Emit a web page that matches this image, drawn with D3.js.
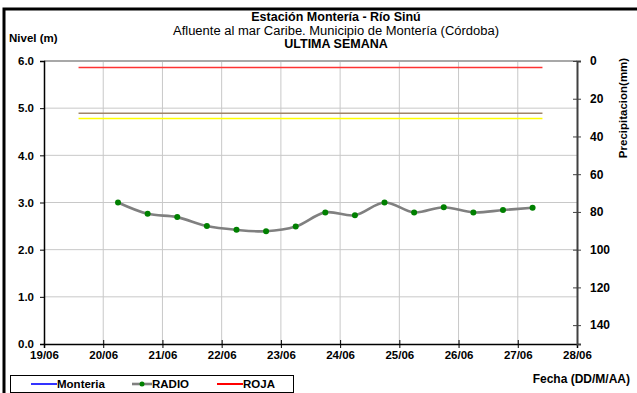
<!DOCTYPE html>
<html><head><meta charset="utf-8">
<script src="https://cdn.jsdelivr.net/npm/d3@7/dist/d3.min.js"></script>
<style>body{margin:0;background:#fff}svg{display:block;font-family:"Liberation Sans",Arial,sans-serif}</style>
</head><body><svg id="c" width="637" height="393"></svg>
<script>
const dayTicks = ["19/06","20/06","21/06","22/06","23/06","24/06","25/06","26/06","27/06","28/06"];
const radioTimes = ["20/06 06:00","20/06 18:00","21/06 06:00","21/06 18:00","22/06 06:00","22/06 18:00","23/06 06:00","23/06 18:00","24/06 06:00","24/06 18:00","25/06 06:00","25/06 18:00","26/06 06:00","26/06 18:00","27/06 06:00"];
const radioValues = [3.00,2.76,2.69,2.50,2.42,2.39,2.49,2.79,2.73,3.00,2.79,2.90,2.79,2.84,2.89];
const thresholdNames = ["ROJA","NARANJA","AMARILLA"];
const thresholdValues = [5.86,4.89,4.78];
const thresholdColors = ["#ff3333","#a08468","#ffff00"];
const thresholdSpan = ["19/06 14:00","27/06 10:00"];
const levelTicks = [0,1,2,3,4,5,6];
const precipTicks = [0,20,40,60,80,100,120,140];

const parse = d3.timeParse("%d/%m/%Y %H:%M");
const pd = s => s.length === 5 ? parse(s + "/2012 00:00") : parse(s.replace(" ", "/2012 "));

const svg = d3.select("#c");
const L = 44, R = 577, T = 61, B = 344;
const x = d3.scaleTime().domain([pd(dayTicks[0]), pd(dayTicks[dayTicks.length-1])]).range([L, R]);
const y = d3.scaleLinear().domain([0, 6]).range([B, T]);
const y2 = d3.scaleLinear().domain([0, 150]).range([T, B]);

// outer frame
svg.append("path").attr("d", `M4,393 V9 H640`).attr("fill","none").attr("stroke","#000").attr("stroke-width",3);

// grid
const g = svg.append("g");
g.selectAll(".hg").data(levelTicks.filter(d => d > 0 && d < 6)).enter().append("line")
  .attr("x1", L).attr("x2", R).attr("y1", d => y(d)).attr("y2", d => y(d))
  .attr("stroke", "#c8c8c8").attr("stroke-width", 1);
g.selectAll(".vg").data(dayTicks.slice(1, -1)).enter().append("line")
  .attr("x1", d => x(pd(d))).attr("x2", d => x(pd(d))).attr("y1", T).attr("y2", B)
  .attr("stroke", "#c8c8c8").attr("stroke-width", 1);
g.append("line").attr("x1", L).attr("x2", R).attr("y1", y(6)).attr("y2", y(6)).attr("stroke", "#a8a8a8").attr("stroke-width", 2);

// thresholds
svg.selectAll(".th").data(thresholdValues).enter().append("line")
  .attr("x1", x(pd(thresholdSpan[0]))).attr("x2", x(pd(thresholdSpan[1])))
  .attr("y1", d => y(d)).attr("y2", d => y(d))
  .attr("stroke", (d,i) => thresholdColors[i]).attr("stroke-width", 1.5);

// radio series
const pts = radioTimes.map((t,i) => [x(pd(t)), y(radioValues[i])]);
svg.append("path").datum(pts).attr("d", d3.line().curve(d3.curveCatmullRom.alpha(0.5)))
  .attr("fill","none").attr("stroke","#808080").attr("stroke-width",2.6);
svg.selectAll(".dot").data(pts).enter().append("circle")
  .attr("cx", d => d[0]).attr("cy", d => d[1]).attr("r", 3).attr("fill", "#008000");

// axes
const fontAxis = sel => sel.attr("font-size", 11.5).attr("font-weight", "bold").attr("fill", "#000");
const ax = svg.append("g").attr("transform", `translate(${L},0)`)
  .call(d3.axisLeft(y).tickValues(levelTicks).tickFormat(d3.format(".1f")).tickSize(4).tickPadding(6));
ax.select(".domain").attr("stroke","#000").attr("stroke-width",1.5);
ax.selectAll("text").call(fontAxis);

const bx = svg.append("g").attr("transform", `translate(0,${B})`)
  .call(d3.axisBottom(x).tickValues(dayTicks.map(pd)).tickFormat(d3.timeFormat("%d/%m")).tickSize(4).tickPadding(3));
bx.select(".domain").attr("stroke","#000").attr("stroke-width",1.5);
bx.selectAll(".tick line").attr("y1", -4);
bx.selectAll("text").call(fontAxis);

const rx = svg.append("g").attr("transform", `translate(${R},0)`)
  .call(d3.axisRight(y2).tickValues(precipTicks).tickSize(4).tickPadding(9));
rx.select(".domain").attr("stroke","#404040").attr("stroke-width",2);
rx.selectAll(".tick line").attr("x1", -4).attr("stroke","#404040");
rx.selectAll("text").call(fontAxis).attr("font-size", 12);

// titles
const tx = 336;
svg.append("text").attr("x", tx).attr("y", 21).attr("text-anchor","middle").attr("font-size",12.5).attr("font-weight","bold").text("Estación Montería  - Río Sinú");
svg.append("text").attr("x", tx).attr("y", 35).attr("text-anchor","middle").attr("font-size",12.5).attr("textLength",326).attr("lengthAdjust","spacingAndGlyphs").text("Afluente al mar Caribe. Municipio de Montería (Córdoba)");
svg.append("text").attr("x", tx).attr("y", 48).attr("text-anchor","middle").attr("font-size",12.5).attr("font-weight","bold").text("ULTIMA SEMANA");
svg.append("text").attr("x", 9).attr("y", 42).attr("font-size",11.5).attr("font-weight","bold").text("Nivel (m)");
svg.append("text").attr("transform","translate(627,108) rotate(-90)").attr("text-anchor","middle").attr("font-size",11.5).attr("font-weight","bold").text("Precipitacion(mm)");
svg.append("text").attr("x", 630).attr("y", 383).attr("text-anchor","end").attr("font-size",12).attr("font-weight","bold").text("Fecha (DD/M/AA)");

// legend
const legendNames = ["Monteria","RADIO","ROJA"];
const legendColors = ["#3333ff","#808080","#ff0000"];
const legendX = [31,132,217];
svg.append("rect").attr("x",10.5).attr("y",375.5).attr("width",283).attr("height",17).attr("fill","none").attr("stroke","#000");
const lg = svg.selectAll(".lg").data(legendNames).enter().append("g").attr("transform",(d,i)=>`translate(${legendX[i]},384)`);
lg.append("line").attr("x1",0).attr("x2",(d,i)=> i===1?20:26).attr("y1",0).attr("y2",0).attr("stroke",(d,i)=>legendColors[i]).attr("stroke-width",(d,i)=>i===1?2.6:2);
lg.filter((d,i)=>i===1).append("circle").attr("cx",10).attr("cy",0).attr("r",2.5).attr("fill","#008000");
lg.append("text").attr("x",(d,i)=> i===1?20:26).attr("y",4).attr("font-size",11.5).attr("font-weight","bold").text(d=>d);
</script></body></html>
